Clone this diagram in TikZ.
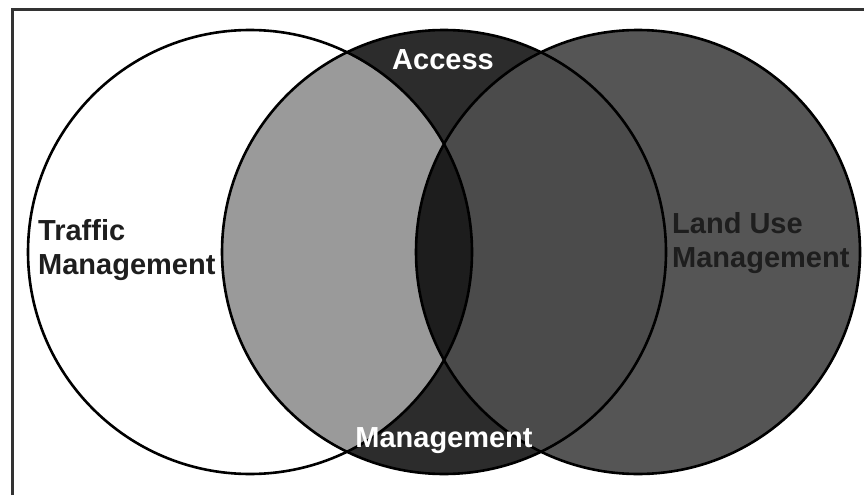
\documentclass[tikz,border=0pt]{standalone}
\usepackage{fontspec}
\setmainfont{Liberation Sans}
\begin{document}
\begin{tikzpicture}[x=1pt,y=-1pt,
  outline/.style={draw=black,line width=2.6pt},
  lbl/.style={inner sep=0pt,font=\fontsize{29}{33}\selectfont\bfseries},
  frameline/.style={draw=black!80,line width=3pt}]
\definecolor{lightg}{HTML}{9A9A9A}
\definecolor{midd}{HTML}{2C2C2C}
\definecolor{rightg}{HTML}{555555}
\definecolor{midright}{HTML}{4B4B4B}
\definecolor{core}{HTML}{1D1D1D}
\definecolor{txtdark}{HTML}{1E1E1E}
\useasboundingbox (0,0) rectangle (864,495);
\fill[white] (0,0) rectangle (864,495);
\coordinate (cl) at (250,252);
\coordinate (cm) at (444,252);
\coordinate (cr) at (638,252);
\def\rad{222}
% base fills
\fill[white] (cl) circle (\rad);
\fill[rightg] (cr) circle (\rad);
\fill[midd] (cm) circle (\rad);
\begin{scope}
  \clip (cm) circle (\rad);
  \fill[lightg] (cl) circle (\rad);
  \fill[midright] (cr) circle (\rad);
  \clip (cl) circle (\rad);
  \fill[core] (cr) circle (\rad);
\end{scope}
% outlines
\draw[outline] (cl) circle (\rad);
\draw[outline] (cm) circle (\rad);
\draw[outline] (cr) circle (\rad);
% frame
\coordinate (f1) at (12,495);
\coordinate (f2) at (12,10);
\coordinate (f3) at (864,10);
\draw[frameline] (f1) -- (f2) -- (f3);
% labels
\node[lbl,text=white,anchor=base] (access) at (443,70) {Access};
\node[lbl,text=white,anchor=base] (mgmt) at (444,447) {Management};
\node[lbl,text=txtdark,anchor=base west] (traffic1) at (38,240) {Traffic};
\node[lbl,text=txtdark,anchor=base west] (traffic2) at (38,274) {Management};
\node[lbl,text=txtdark,anchor=base west] (land1) at (672,233) {Land Use};
\node[lbl,text=txtdark,anchor=base west] (land2) at (672,267) {Management};
\end{tikzpicture}
\end{document}
